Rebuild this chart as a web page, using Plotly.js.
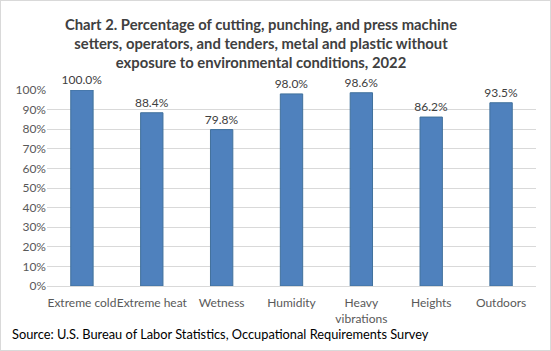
<!DOCTYPE html>
<html>
<head>
<meta charset="utf-8">
<script src="https://cdn.plot.ly/plotly-3.0.1.min.js"></script>
<style>
html,body{margin:0;padding:0;background:#fff;}
#chart{width:549px;height:349px;border:1px solid #d9d9d9;}
</style>
</head>
<body>
<div id="chart"></div>
<script>
const categories = ["Extreme cold", "Extreme heat", "Wetness", "Humidity", "Heavy vibrations", "Heights", "Outdoors"];
const tickLabels = ["Extreme cold", "Extreme heat", "Wetness", "Humidity", "Heavy<br>vibrations", "Heights", "Outdoors"];
const values = [1.000, 0.884, 0.798, 0.980, 0.986, 0.862, 0.935];
const yTicks = [0, 0.1, 0.2, 0.3, 0.4, 0.5, 0.6, 0.7, 0.8, 0.9, 1.0];

const FONT = "Lato, 'Open Sans', sans-serif";

const trace = {
  type: "bar",
  x: categories,
  y: values,
  marker: {color: "#4f81bd", line: {color: "#41719c", width: 1}},
  texttemplate: "%{y:.1%}",
  textposition: "outside",
  constraintext: "none",
  cliponaxis: false,
  textfont: {family: FONT, size: 12, color: "#404040"},
  hoverinfo: "none"
};

const layout = {
  width: 549, height: 349,
  margin: {l: 46, r: 14, t: 89, b: 64},
  paper_bgcolor: "#fff",
  plot_bgcolor: "#fff",
  bargap: 0.68,
  showlegend: false,
  font: {family: FONT, color: "#595959", size: 12},
  title: {
    text: "<b>Chart 2. Percentage of cutting, punching, and press machine<br>setters, operators, and tenders, metal and plastic without<br>exposure to environmental conditions, 2022</b>",
    font: {family: FONT, size: 14.8, color: "#404040"},
    x: 260/549, xanchor: "center",
    y: 1 - 29/349, yanchor: "top", yref: "container"
  },
  xaxis: {
    type: "category",
    tickvals: categories,
    ticktext: tickLabels,
    tickangle: 0,
    showline: false,
    ticks: "outside",
    ticklen: 6,
    tickcolor: "rgba(0,0,0,0)",
    tickfont: {family: FONT, size: 12, color: "#595959"}
  },
  yaxis: {
    range: [0, 1],
    tickvals: yTicks,
    tickformat: ".0%",
    showgrid: true,
    gridcolor: "#d9d9d9",
    gridwidth: 1,
    zeroline: true,
    zerolinecolor: "#d9d9d9",
    showline: false,
    ticks: "",
    ticklen: 0,
    tickfont: {family: FONT, size: 12, color: "#595959"}
  },
  annotations: [{
    text: "Source: U.S. Bureau of Labor Statistics, Occupational Requirements Survey",
    xref: "paper", yref: "paper",
    x: (9 - 46) / 489, y: (285 - 333) / 196,
    xanchor: "left", yanchor: "middle",
    showarrow: false,
    font: {family: FONT, size: 12.8, color: "#000"}
  }]
};

Plotly.newPlot("chart", [trace], layout, {displayModeBar: false, staticPlot: true});
</script>
</body>
</html>
